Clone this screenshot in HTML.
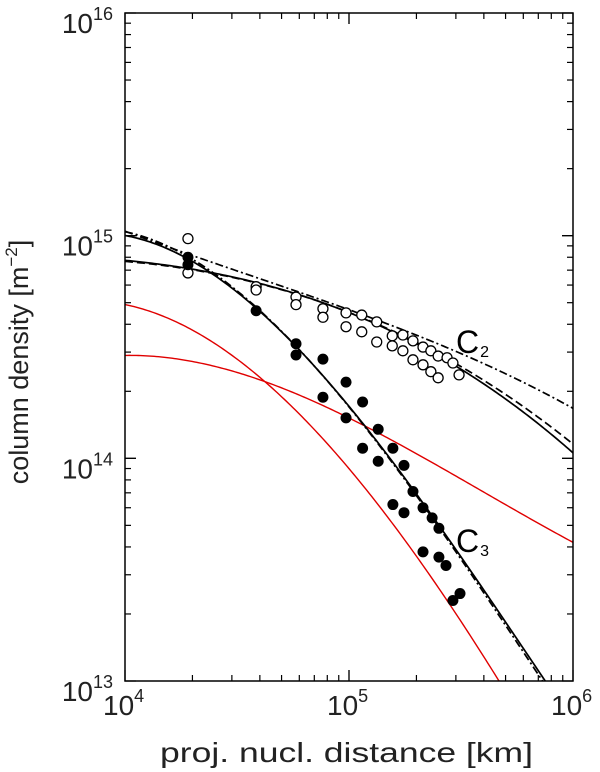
<!DOCTYPE html>
<html><head><meta charset="utf-8"><style>
body{margin:0;background:#fff}
svg{display:block;font-family:"Liberation Sans","DejaVu Sans",sans-serif}
</style></head><body>
<svg id="chart" width="600" height="772">
<g id="plot"></g>
</svg>
<script>
const xTicks=[1e4,1e5,1e6];
const xTickExp=["4","5","6"];
const yTicks=[1e13,1e14,1e15,1e16];
const yTickExp=["13","14","15","16"];
const openX=[1.91e4,1.91e4,3.85e4,3.85e4,5.8e4,5.8e4,7.65e4,7.65e4,9.7e4,9.7e4,1.14e5,1.14e5,1.33e5,1.33e5,1.56e5,1.56e5,1.74e5,1.74e5,1.93e5,1.93e5,2.14e5,2.14e5,2.32e5,2.32e5,2.5e5,2.5e5,2.74e5,2.91e5,3.1e5];
const openY=[9.7e14,6.8e14,5.9e14,5.7e14,5.3e14,4.9e14,4.7e14,4.3e14,4.5e14,3.9e14,4.4e14,3.7e14,4.1e14,3.33e14,3.55e14,3.2e14,3.58e14,3.04e14,3.37e14,2.77e14,3.16e14,2.63e14,3.04e14,2.45e14,2.88e14,2.3e14,2.83e14,2.68e14,2.37e14];
const filledX=[1.91e4,1.91e4,3.85e4,5.8e4,5.8e4,7.65e4,7.65e4,9.7e4,9.7e4,1.15e5,1.15e5,1.35e5,1.35e5,1.57e5,1.57e5,1.76e5,1.76e5,1.93e5,2.14e5,2.14e5,2.35e5,2.52e5,2.52e5,2.71e5,2.91e5,3.13e5];
const filledY=[8.0e14,7.4e14,4.6e14,3.27e14,2.91e14,2.79e14,1.88e14,2.2e14,1.52e14,1.79e14,1.11e14,1.35e14,9.7e13,1.11e14,6.2e13,9.3e13,5.7e13,7.1e13,6.0e13,3.8e13,5.4e13,4.85e13,3.6e13,3.3e13,2.3e13,2.47e13];
const c2X=[1e4,2e4,4e4,1e5,2e5,3e5,5e5,1e6];
const c2SolidY=[7.78e14,7.06e14,6.0e14,4.6e14,3.3e14,2.6e14,1.8e14,1.07e14];
const c2DashY=[7.7e14,7.0e14,6.0e14,4.6e14,3.35e14,2.65e14,1.9e14,1.17e14];
const c2DotY=[1.06e15,8.0e14,6.3e14,4.8e14,3.65e14,3.0e14,2.3e14,1.71e14];
const c3X=[1e4,2e4,4e4,1e5,2e5,3e5,5e5,7.36e5];
const c3SolidY=[1.0e15,7.64e14,4.64e14,1.71e14,6.7e13,3.88e13,1.95e13,1.0e13];
const c3DotY=[1.04e15,7.8e14,4.7e14,1.69e14,6.6e13,3.8e13,1.88e13,9.6e12];
const red1X=[1e4,2e4,4e4,1e5,2e5,3e5,4.56e5];
const red1Y=[4.83e14,3.9e14,2.3e14,8.6e13,3.62e13,2.16e13,1e13];
const red2X=[1e4,2e4,4e4,1e5,2e5,3e5,5e5,1e6];
const red2Y=[2.91e14,2.7e14,2.25e14,1.54e14,1.04e14,8.3e13,6.2e13,4.2e13];

const L=125,R=573,T=13,B=681;
const NS="http://www.w3.org/2000/svg";
function sx(v){return L+(Math.log10(v)-4)/2*(R-L);}
function sy(v){return B-(Math.log10(v)-13)/3*(B-T);}
const svg=document.getElementById('chart');
const plot=document.getElementById('plot');
function mk(tag,attrs,parent){const e=document.createElementNS(NS,tag);for(const k in attrs)e.setAttribute(k,attrs[k]);(parent||svg).appendChild(e);return e;}

const defs=mk('defs',{});
const cp=mk('clipPath',{id:'clip'},defs);
mk('rect',{x:L,y:T,width:R-L,height:B-T},cp);

// least-squares cubic fit in log-log space for a smooth curve through the read values
function polyfit(xs,ys,deg){
  const n=deg+1,A=[];for(let i=0;i<n;i++){A.push(new Array(n+1).fill(0));}
  xs.forEach((x,k)=>{const t=Math.log10(x)-5,y=Math.log10(ys[k]);
    for(let i=0;i<n;i++){for(let j=0;j<n;j++)A[i][j]+=Math.pow(t,i+j);A[i][n]+=y*Math.pow(t,i);}});
  for(let i=0;i<n;i++){let p=i;for(let r=i+1;r<n;r++)if(Math.abs(A[r][i])>Math.abs(A[p][i]))p=r;[A[i],A[p]]=[A[p],A[i]];
    for(let r=0;r<n;r++)if(r!==i){const f=A[r][i]/A[i][i];for(let c=i;c<=n;c++)A[r][c]-=f*A[i][c];}}
  return A.map((row,i)=>row[n]/row[i]);
}
function curve(xs,ys,color,dash,name){
  const c=polyfit(xs,ys,3);let d='';
  for(let k=0;k<=200;k++){const t=-1+2*k/200;let y=0;c.forEach((a,i)=>y+=a*Math.pow(t,i));
    const X=L+(t+1)/2*(R-L),Y=B-(y-13)/3*(B-T);d+=(k?'L':'M')+X.toFixed(2)+','+Y.toFixed(2);}
  const e=mk('path',{d:d,fill:'none',stroke:color,'stroke-width':color==='#000'?1.7:1.4,'clip-path':'url(#clip)'},plot);
  if(dash)e.setAttribute('stroke-dasharray',dash);
  
  
}
curve(red1X,red1Y,'#e00000',null,'red-model-curve-1');
curve(red2X,red2Y,'#e00000',null,'red-model-curve-2');
curve(c2X,c2SolidY,'#000',null,'c2-fit-solid');
curve(c2X,c2DashY,'#000','8,4','c2-fit-dashed');
curve(c2X,c2DotY,'#000','8,3,2,3','c2-fit-dashdot');
curve(c3X,c3SolidY,'#000',null,'c3-fit-solid');
curve(c3X,c3DotY,'#000','8,3,2,3','c3-fit-dashdot');

openX.forEach((x,i)=>{
  const c=mk('circle',{cx:sx(x),cy:sy(openY[i]),r:5,fill:'#fff',stroke:'#000','stroke-width':1.3},plot);
  
  
});
filledX.forEach((x,i)=>{
  const c=mk('circle',{cx:sx(x),cy:sy(filledY[i]),r:5.5,fill:'#000'},plot);
  
  
});

const fr=mk('rect',{x:L,y:T,width:R-L,height:B-T,fill:'none',stroke:'#000','stroke-width':1.5});



const tg=mk('g',{stroke:'#000','stroke-width':1.2});
for(let d=4;d<6;d++)for(let m=1;m<=10;m++){
  const v=m*Math.pow(10,d);const X=sx(v);const len=(m===1||m===10)?11:6;
  mk('line',{x1:X,y1:B,x2:X,y2:B-len},tg);mk('line',{x1:X,y1:T,x2:X,y2:T+len},tg);
}
for(let d=13;d<16;d++)for(let m=1;m<=10;m++){
  const v=m*Math.pow(10,d);const Y=sy(v);const len=(m===1||m===10)?11:6;
  mk('line',{x1:L,y1:Y,x2:L+len,y2:Y},tg);mk('line',{x1:R,y1:Y,x2:R-len,y2:Y},tg);
}

function label(x,y,exp,anchor,name){
  const t=mk('text',{x:x,y:y,'font-size':28,'text-anchor':anchor,fill:'#222'});
  t.textContent='10';
  const s=mk('tspan',{dy:-13,'font-size':18},t);s.textContent=exp;
  
  
}
xTicks.forEach((v,i)=>label(sx(v)-22,B+34,xTickExp[i],'start','x-tick-label'));
yTicks.forEach((v,i)=>label(L-12,sy(v)+20,yTickExp[i],'end','y-tick-label'));

const xt=mk('text',{x:160,y:762,'font-size':28,fill:'#222',textLength:373,lengthAdjust:'spacingAndGlyphs'});
xt.textContent='proj. nucl. distance [km]';

const yt=mk('text',{x:0,y:0,'font-size':27,'text-anchor':'middle',fill:'#222',transform:'translate(28,362) rotate(-90)'});
yt.textContent='column density [m';
const sp=mk('tspan',{dy:-11,'font-size':17},yt);sp.textContent='−2';
const sp2=mk('tspan',{dy:11},yt);sp2.textContent=']';


function series(x,y,sub,name){
  const t=mk('text',{x:x,y:y,'font-size':32,fill:'#000'});t.textContent='C';
  const s=mk('tspan',{'font-size':16,dx:1,dy:4},t);s.textContent=sub;
  
}
series(456,353,'2','c2-label');
series(456,552,'3','c3-label');
</script>
</body></html>
